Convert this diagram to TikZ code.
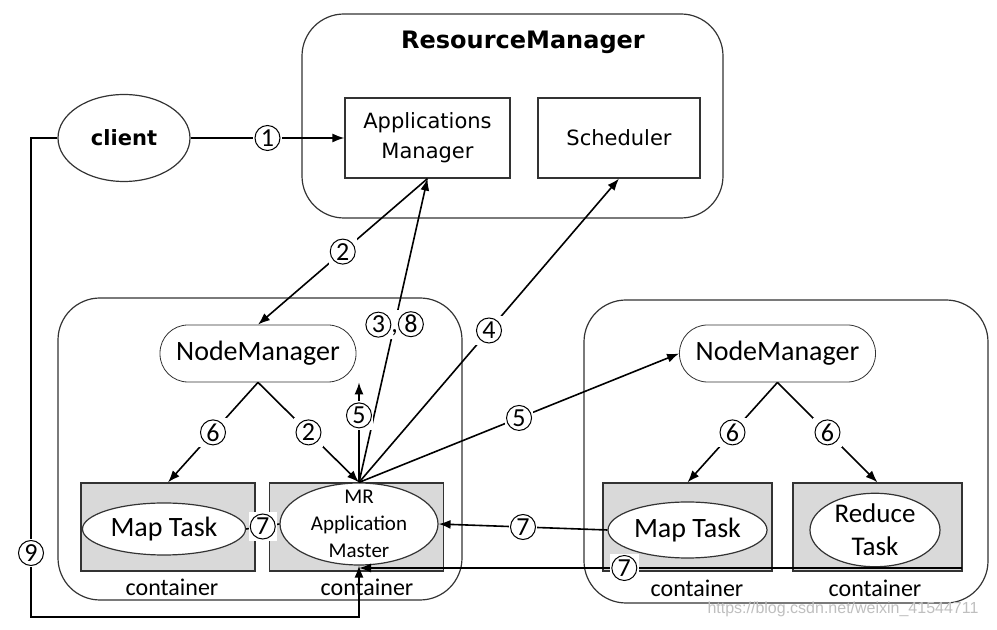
\documentclass[tikz,border=0pt]{standalone}
\usepackage{fontspec}
\setmainfont{Carlito}
\newfontfamily\tahoma{DejaVu Sans}
\newfontfamily\wmfont{Liberation Sans}
\usetikzlibrary{arrows.meta,shapes.geometric}
\tikzset{box/.style = {shape=rectangle,draw=black!80,fill=white,line width=0.6pt}}
\tikzset{group/.style = {shape=rectangle,draw=black!80,rounded corners=21pt,line width=0.6pt}}
\tikzset{pill/.style = {shape=rectangle,draw=black!80,fill=white,rounded corners=14pt,minimum width=98pt,minimum height=28.5pt,font=\fontsize{14}{16}\selectfont}}
\tikzset{cont/.style = {shape=rectangle,draw=black!80,fill=black!15,line width=0.6pt,minimum width=87pt,minimum height=44pt}}
\tikzset{task/.style = {shape=ellipse,draw=black!80,fill=white,line width=0.6pt,inner sep=0pt}}
\tikzset{num/.style = {fill=white,inner sep=0.6pt,font=\fontsize{13}{13}\selectfont}}
\tikzset{edge/.style = {->,> = {Latex[length=6pt,width=4.5pt]},line width=0.8pt}}
\tikzset{link/.style = {line width=0.8pt}}
\newcommand{\cnum}[1]{\tikz[baseline=(d.base)]\node[shape=circle,draw,line width=0.5pt,inner sep=0pt,minimum size=12.5pt] (d) {#1};}

\begin{document}
\begin{tikzpicture}[x=0.5pt,y=-0.5pt]
  \useasboundingbox (0,0) rectangle (997,630);
  % ResourceManager
  \node[group,minimum width=210.5pt,minimum height=102pt] (rm) at (512.5,116) {};
  \node[font=\tahoma\bfseries\fontsize{12}{14}\selectfont] (rmtitle) at (523,42) {ResourceManager};
  \node[box,minimum width=82.5pt,minimum height=40pt,align=center,font=\tahoma\fontsize{10.5}{15}\selectfont] (am) at (427.5,138) {Applications\\Manager};
  \node[box,minimum width=81pt,minimum height=40pt,font=\tahoma\fontsize{10.5}{15}\selectfont] (sch) at (619,138) {Scheduler};
  \node[task,minimum width=66pt,minimum height=43.5pt,font=\tahoma\bfseries\fontsize{10.5}{12}\selectfont] (client) at (124,138) {client};

  % left node
  \node[group,minimum width=202pt,minimum height=151pt] (nodeL) at (260,449) {};
  \node[pill] (nmL) at (258,353.5) {NodeManager};
  \node[cont] (mapboxL) at (168,527) {};
  \node[cont] (mrbox) at (356.5,527) {};
  \node[task,minimum width=81.5pt,minimum height=26pt,font=\fontsize{14}{16}\selectfont] (mapL) at (164,529) {Map Task};
  \node[task,minimum width=79pt,minimum height=41pt] (mr) at (359,524) {};
  \node[align=center,font=\fontsize{10.5}{13.5}\selectfont] (mrtext) at (mr) {MR\\Application\\Master};
  \node[font=\fontsize{12}{14}\selectfont] (contA) at (172,587) {container};
  \node[font=\fontsize{12}{14}\selectfont] (contB) at (367,587) {container};

  % right node
  \node[group,minimum width=202pt,minimum height=151.5pt] (nodeR) at (786,451.5) {};
  \node[pill] (nmR) at (777.5,353.5) {NodeManager};
  \node[cont,minimum width=84.5pt] (mapboxR) at (687.5,527) {};
  \node[cont,minimum width=84.5pt] (redbox) at (877.5,527) {};
  \node[task,minimum width=79.5pt,minimum height=28pt,font=\fontsize{14}{16}\selectfont] (mapR) at (687.5,530) {Map Task};
  \node[task,minimum width=65pt,minimum height=35pt,align=center,font=\fontsize{13.5}{16.5}\selectfont] (red) at (875,530) {Reduce\\Task};
  \node[font=\fontsize{12}{14}\selectfont] (contC) at (697,588) {container};
  \node[font=\fontsize{12}{14}\selectfont] (contD) at (875,588) {container};

  \node[text=black!25,font=\wmfont\fontsize{8}{10}\selectfont] (wm) at (843,609) {https://blog.csdn.net/weixin\_41544711};

  \path[edge] (client) edge node[num] {\cnum{1}} (am);
  \path[edge] (am.south) edge node[num] {\cnum{2}} (nmL.north);
  \path[edge] (mr.north) edge node[num,pos=0.52] {\cnum{3},\cnum{8}} (am.south);
  \path[edge] (mr.north) edge node[num] {\cnum{4}} (sch.south);
  \path[edge] (mr.north) edge node[num,pos=0.67] {\cnum{5}} (mr.north |- nmL.south);
  \path[edge] (mr.north) edge node[num] {\cnum{5}} (nmR.west);
  \path[edge] (nmL.south) edge node[num] {\cnum{2}} (mr.north);
  \path[edge] (nmL.south) edge node[num] {\cnum{6}} (mapboxL.north);
  \path[edge] (nmR.south) edge node[num] {\cnum{6}} (mapboxR.north);
  \path[edge] (nmR.south) edge node[num] {\cnum{6}} (redbox.north);
  \path[link] (mapL.east) edge node[num] {\cnum{7}} (mr.west);
  \path[edge] (mapR.west) edge node[num] {\cnum{7}} (mr.east);
  \coordinate (r7) at (962,568);
  \path[edge] (r7) edge node[num,pos=0.56] {\cnum{7}} (r7 -| mr.south);
  \draw[edge] (client.west) -| (31,617) -| (mr.south);
  \node[num] (n9) at (31,553) {\cnum{9}};
\end{tikzpicture}
\end{document}
